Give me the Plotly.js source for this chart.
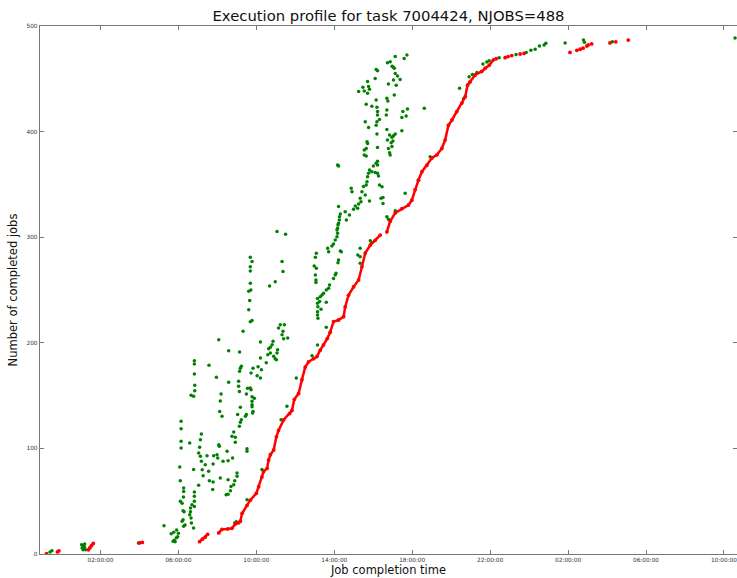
<!DOCTYPE html>
<html>
<head>
<meta charset="utf-8">
<script src="https://cdn.plot.ly/plotly-3.0.1.min.js"></script>
<style>
html,body{margin:0;padding:0;background:#fff;overflow:hidden;}
#chart{width:737px;height:578px;}
</style>
</head>
<body>
<div id="chart"></div>
<script>
// Times are hours after 00:00 of the first day; counts are number of completed jobs.
const chartTitle = "Execution profile for task 7004424, NJOBS=488";
const xTitle = "Job completion time";
const yTitle = "Number of completed jobs";
const xRangeHours = [-1.103, 34.67];
const yRange = [0, 500];
const tickStartHours = 2;
const tickStepHours = 4;

// red: cumulative completion curve (null = gap between runs)
const redCurve = [
  [-0.77,0.3], null, [-0.21,2], [-0.13,3], null,
  [1.38,4], [1.46,6], [1.54,8], [1.63,10], null,
  [4.00,10.5], [4.15,11], null,
  [7.09,11.7], [7.23,14], [7.38,16], [7.50,18.6], null,
  [8.07,20], [8.24,23.4], [8.53,23.7], [8.75,24.3], [8.92,28.4], [9.09,29.6], [9.18,31], [9.27,38.5],
  [9.52,46], [9.69,51], [10.00,57.5], [10.12,63.7], [10.29,73], [10.37,78], [10.55,81], [10.63,89],
  [10.72,94], [10.89,98.5], [11.03,111], [11.14,117], [11.40,127], [11.71,133], [11.83,136], [11.95,146.5],
  [12.17,152], [12.34,165], [12.51,177], [12.68,182], [12.94,185], [13.11,187], [13.28,193], [13.45,198],
  [13.64,204], [13.79,210], [13.96,220], [14.22,221.6], [14.48,224.7], [14.56,234], [14.73,245], [14.99,253],
  [15.25,259.5], [15.42,272], [15.59,285], [15.85,292.6], [16.10,297], [16.36,302], null,
  [16.70,305], [16.87,315], [17.13,323], [17.47,327], [17.81,330.5], [17.98,335], [18.15,345], [18.32,354],
  [18.50,362], [18.75,368], [19.01,375], [19.27,378], [19.52,384], [19.69,392], [19.86,406], [20.04,411],
  [20.29,419], [20.55,427], [20.72,433], [20.84,444], [20.97,447], [21.23,453.6], [21.57,457], [21.74,460],
  [21.96,463], [22.17,468]
];
const redSparse = [
  [22.31,469], [22.77,470], [22.92,471], [23.11,472], [23.54,473.5], [23.74,474],
  [26.10,475], [26.45,477], [26.62,478], [26.77,479], [26.96,481], [27.03,482], [27.21,483],
  [28.15,484], [28.45,485], [29.09,486.7]
];

// green: individual jobs
const greenPts = [
  [-0.59,1.8],[-0.49,3],
  [1.03,8.8],[1.06,5.7],[1.14,7.3],[1.19,9.5],[1.11,4],[1.23,4],[1.18,6.3],
  [3.95,10.5],
  [5.26,26.7],[5.63,19.2],[5.76,20.5],[5.73,12],[5.79,13],[5.83,11.7],[5.90,15.5],[5.96,16.4],[6.00,19.6],[5.91,22.7],
  [6.07,82.4],[6.10,69.4],[6.14,125.6],[6.14,118.7],[6.14,106.7],[6.14,100.4],[6.10,50],[6.19,48],[6.24,32.5],[6.19,31],
  [6.24,41],[6.27,62.5],[6.27,59.3],[6.27,26.2],[6.29,40],[6.26,54],[6.34,27.5],
  [6.58,105],[6.58,37.2],[6.62,43.5],[6.65,34],[6.70,46.7],[6.67,29.3],[6.62,40],[6.78,80],[6.78,24.6],
  [6.82,58.7],[6.82,54.6],[6.82,50],[6.82,45],[6.82,183],[6.82,180],[6.82,170.5],[6.84,159.7],[6.84,154.7],[6.78,149.3],[6.65,150.3],
  [7.04,65],[7.04,95.6],[7.09,101],[7.13,108.3],[7.18,113.6],[7.13,92.5],[7.18,87.8],[7.22,79.9],[7.27,74],
  [7.38,84.6],[7.47,93],[7.57,178.7],[7.55,78.3],[7.59,69.4],[7.78,68.2],[7.78,85.2],[7.81,93],[7.95,167.3],
  [7.98,94],[8.02,91],[8.07,103.5],[8.10,102],[8.07,203],[8.12,135],[8.15,145],[8.19,151.5],[8.24,130.4],
  [7.76,61],[8.15,72],[8.29,87.8],[8.50,97.3],[8.55,88.3],[8.58,162.6],[8.58,192.5],[8.55,70.4],[8.45,56.2],
  [8.55,56.5],[8.67,60],[8.70,64],[8.78,91],[8.75,111.5],[8.84,115.5],[8.84,65.6],[8.89,69.4],[8.92,110.5],
  [8.92,105.8],[9.01,76.7],[9.01,73.6],[9.09,158.8],[9.09,163.5],[9.14,173],[9.18,176],[9.23,177.7],[9.13,154],
  [9.14,191.3],[9.04,132],[9.13,121],[9.18,124.7],[9.23,127.2],[9.18,139],[9.32,211],[9.44,130.4],[9.49,132],
  [9.49,151.5],[9.55,157],[9.52,51.4],[9.52,99.7],[9.52,97.3],[9.61,231.4],[9.61,248.7],[9.66,240],[9.69,220],
  [9.78,221],[9.73,171.4],[9.69,157.2],[9.73,155.6],[9.78,144.6],[9.78,141.4],[9.83,135],[9.81,133.5],[9.78,139.5],
  [9.78,149],[9.90,147.4],[9.83,176],[10.04,168.8],[10.09,177.4],[10.21,166.7],[10.21,200.8],[10.21,185.6],
  [10.26,174.5],[10.29,80],[10.51,181],[10.59,188.8],[10.63,194.4],[10.72,195.8],[10.81,198.2],[10.86,201.4],
  [10.72,190.3],[10.89,187.2],[10.97,185],[11.03,184],[11.06,190.3],[11.09,193.5],[11.14,214],[11.23,217.2],
  [11.32,207.7],[11.37,211],[11.44,217.2],[11.40,203.9],[11.61,204.5],[11.57,139.9],[12.05,166.7],[11.27,127.2],
  [8.89,29.3],[8.97,30.6],
  [9.69,281],[9.78,276.9],[9.69,256.3],[9.69,272],[9.69,268],[9.72,250],[10.68,253.8],[10.97,257.9],
  [11.06,305.3],[11.32,276.9],[11.37,267.5],[11.50,302.7],
  [12.86,187.8],[13.14,197.9],[13.59,214.7],[13.08,284.7],[13.03,281],[12.97,272.7],[13.08,270.5],[13.03,264.2],
  [13.06,259.5],[13.06,257],[13.14,242],[13.14,237.4],[13.16,234.2],[13.14,229.5],[13.14,226.3],[13.16,223.2],
  [13.25,239],[13.28,243.7],[13.37,245.3],[13.32,231.7],[13.45,246.9],[13.59,250],[13.71,251.6],[13.76,254.7],
  [13.59,238.4],[13.66,289.5],[13.71,286.3],[13.88,291.7],[13.96,293.6],[14.05,297.3],[14.14,300.5],[14.17,303.7],
  [14.17,308.4],[14.22,313.1],[14.26,316.3],[14.27,319.4],[14.31,322],[14.14,306.8],[14.19,311.6],[14.22,329],
  [14.22,367.4],[14.17,368.4],[13.96,261],[14.05,264.2],[14.09,265.8],[14.22,278.4],[14.19,275.9],[14.31,286.9],
  [14.56,324.1],[14.62,316.3],[14.78,321],[14.87,346.3],[14.91,343.1],[14.99,326.4],[15.08,329.5],[15.20,327.3],
  [15.25,331.4],[15.37,333.6],[15.33,336.8],[15.42,343.1],[15.50,348],[15.59,340],[15.64,349.4],[15.68,352.6],
  [15.71,357.3],[15.76,360.5],[15.81,363.6],[15.93,362],[15.81,334.3],[16.01,367.4],[16.15,370],[16.22,372],
  [16.22,368.4],[16.10,361.2],[16.22,360.5],[16.27,358],[16.32,349.4],[16.45,347.8],[16.40,336.8],[16.50,337.7],
  [16.50,332],[15.54,382.6],[15.54,377.8],[15.64,377],[15.64,384],[15.71,388.8],[16.22,385],[16.78,384],
  [16.84,380],[16.87,377.8],[17.01,391],[17.64,341.6],[16.70,319.4],[16.78,317],[15.85,296.7],[15.93,294.8],
  [15.33,289.5],[15.21,283.1],[15.33,281.5],[15.33,275.3],[14.99,253.1],[14.36,286.3],[18.32,354],[18.92,376.3],
  [17.13,325],
  [17.73,472.5],[17.59,469.3],[17.13,471],[16.87,466.2],[16.73,465.3],[16.97,462],[17.03,461],[17.08,460],
  [16.15,458.9],[16.22,457.6],[16.10,450.4],[15.71,447.4],[15.76,442.6],[15.47,442],[15.25,438],[15.54,438.5],
  [15.71,436.2],[15.81,440],[17.13,455],[17.25,452.6],[17.38,449.4],[17.04,448.9],[16.78,445],[17.18,444],
  [15.64,426],[15.93,424],[16.15,430],[16.19,423],[16.22,419],[16.22,415.7],[16.32,411.4],[16.19,409.4],
  [16.15,406],[15.76,404],[15.59,409.4],[16.19,397.7],[16.70,431.5],[16.75,428.9],[17.08,434.7],[16.70,420.5],
  [16.67,415.7],[17.52,419],[17.76,421.3],[17.69,414.8],[17.47,413.4],[16.70,402],[16.84,396.8],[16.96,394.6],
  [17.04,396],[17.13,397.7],[17.47,400.9],[16.73,392],[16.92,389.5],[16.96,386],[18.62,422],[15.68,390.4],
  [20.43,441],[20.63,431],[20.92,452],[21.09,454],[21.32,456],[21.63,464],[21.83,466],[21.95,467],[22.46,470],
  [23.33,473],[23.85,475],[24.09,477],[24.31,478],[24.53,481],[24.77,482],[24.86,483.6],[25.85,484],
  [26.79,486.7],[26.84,484.5],[28.27,485],[34.57,488.6]
];

const BASE = Date.UTC(2015, 0, 1, 0, 0, 0);
function pad(v){ return (v < 10 ? '0' : '') + v; }
function toDate(h){
  if (h === null) return null;
  const d = new Date(BASE + Math.round(h * 3600000));
  return d.getUTCFullYear() + '-' + pad(d.getUTCMonth() + 1) + '-' + pad(d.getUTCDate()) + ' ' +
         pad(d.getUTCHours()) + ':' + pad(d.getUTCMinutes()) + ':' + pad(d.getUTCSeconds());
}
function xs(pts){ return pts.map(p => p === null ? null : toDate(p[0])); }
function ys(pts){ return pts.map(p => p === null ? null : p[1]); }

const traces = [
  {
    x: xs(greenPts), y: ys(greenPts), type: 'scatter', mode: 'markers',
    marker: {color: '#008000', size: 3.5, line: {width: 0}}, hoverinfo: 'x+y'
  },
  {
    x: xs(redCurve), y: ys(redCurve), type: 'scatter', mode: 'lines+markers', connectgaps: false,
    line: {color: '#ff0000', width: 2.5}, marker: {color: '#ff0000', size: 3.8, line: {width: 0}}
  },
  {
    x: xs(redSparse), y: ys(redSparse), type: 'scatter', mode: 'markers',
    marker: {color: '#ff0000', size: 3.8, line: {width: 0}}
  }
];

const axisCommon = {
  showgrid: false, zeroline: false, showline: true, linecolor: '#777', linewidth: 1.3,
  mirror: 'ticks', ticks: 'inside', ticklen: 4, tickcolor: '#777', tickwidth: 1,
  ticklabeloverflow: 'allow',
  tickfont: {family: 'DejaVu Sans', size: 5.8, color: '#333333'}, automargin: false
};

const layout = {
  width: 737, height: 578,
  margin: {l: 40, r: 0, t: 26, b: 24, pad: 0},
  paper_bgcolor: '#fff', plot_bgcolor: '#fff', showlegend: false,
  font: {family: 'DejaVu Sans', color: '#000'},
  title: {text: chartTitle, font: {family: 'DejaVu Sans', size: 14.8, color: '#111'},
          x: 0.5, xref: 'paper', y: 1 - 16/578, yref: 'container', yanchor: 'middle'},
  xaxis: Object.assign({}, axisCommon, {
    type: 'date', range: [toDate(xRangeHours[0]), toDate(xRangeHours[1])],
    tick0: toDate(tickStartHours), dtick: tickStepHours * 3600000, tickformat: '%H:%M:%S',
    title: {text: xTitle, font: {family: 'DejaVu Sans', size: 11.5, color: '#111'}, standoff: 2}
  }),
  yaxis: Object.assign({}, axisCommon, {
    range: yRange, dtick: 100, tick0: 0,
    title: {text: yTitle, font: {family: 'DejaVu Sans', size: 11.5, color: '#111'}, standoff: 6}
  })
};

Plotly.newPlot('chart', traces, layout, {displayModeBar: false, staticPlot: true});
</script>
</body>
</html>
